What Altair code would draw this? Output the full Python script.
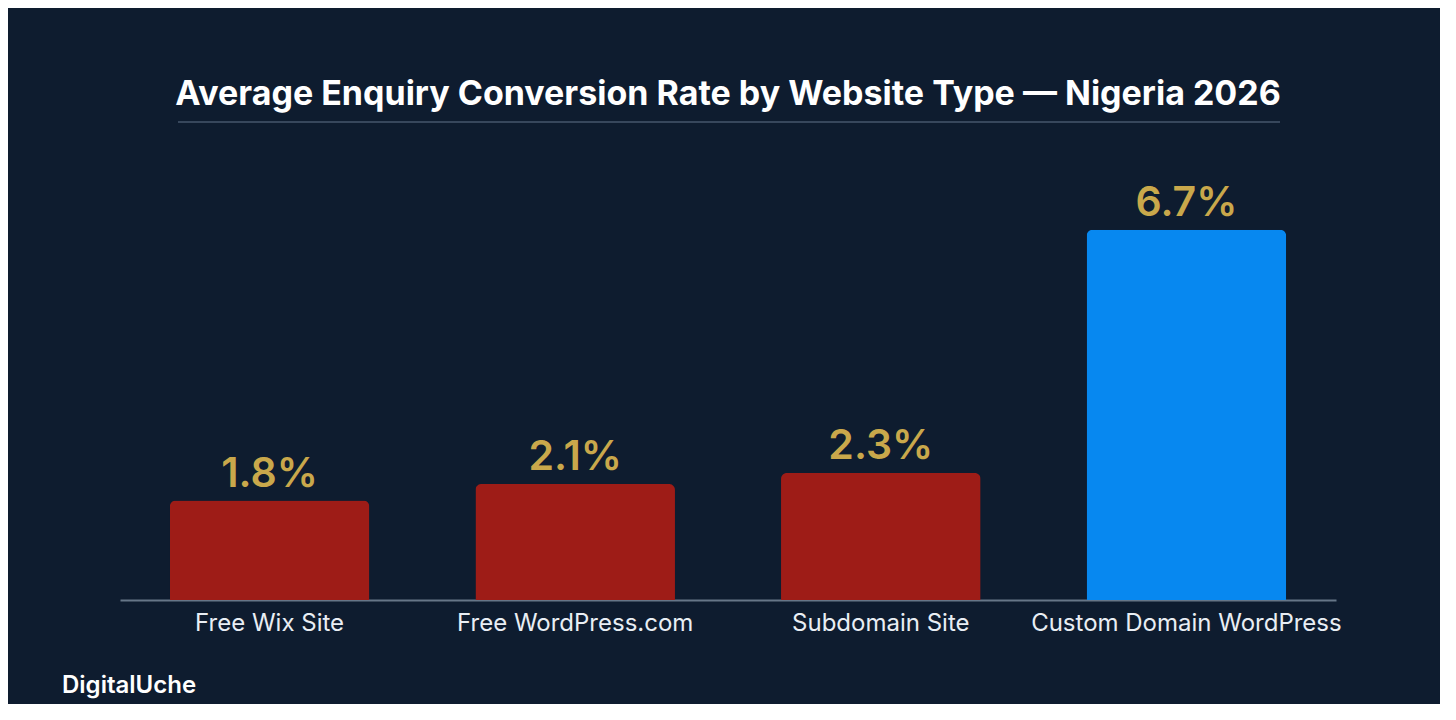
import altair as alt
import pandas as pd

categories = ["Free Wix Site", "Free WordPress.com", "Subdomain Site", "Custom Domain WordPress"]
rates = [1.8, 2.1, 2.3, 6.7]
rate_labels = ["1.8%", "2.1%", "2.3%", "6.7%"]

df = pd.DataFrame({"type": categories, "rate": rates, "label": rate_labels})

BG = "#0e1c2f"
bar_colors = ["#9e1c17", "#9e1c17", "#9e1c17", "#0788f0"]

x_enc = alt.X(
    "type:N",
    sort=categories,
    scale=alt.Scale(paddingInner=0.347, paddingOuter=0.163),
    axis=alt.Axis(
        title=None,
        labelAngle=0,
        labelFontSize=24,
        labelFont="Inter",
        labelColor="#e9eef4",
        labelPadding=11,
        labelLimit=0,
        ticks=False,
        domainColor="#667688",
        domainWidth=2,
        grid=False,
    ),
)
y_enc = alt.Y("rate:Q", scale=alt.Scale(domain=[0, 8]), axis=None)

bars = alt.Chart(df).mark_bar(cornerRadiusTopLeft=6, cornerRadiusTopRight=6).encode(
    x=x_enc,
    y=y_enc,
    color=alt.Color("type:N", scale=alt.Scale(domain=categories, range=bar_colors), legend=None),
)

labels = alt.Chart(df).mark_text(
    font="Inter", fontSize=41, fontWeight=600, color="#c9a84b", baseline="alphabetic", dy=-14
).encode(x=x_enc, y=y_enc, text="label:N")

underline = alt.Chart(df).mark_rule(color="#3b4b60", strokeWidth=1).encode(
    x=alt.value(58), x2=alt.value(1160), y=alt.value(-36)
)

brand = alt.Chart(pd.DataFrame({"t": ["DigitalUche"]})).mark_text(
    font="Inter", fontSize=24, fontWeight=600, color="#ffffff", align="left", baseline="middle"
).encode(x=alt.value(-58), y=alt.value(528), text="t:N")

chart = alt.layer(bars, labels, underline, brand).properties(
    width=1216,
    height=442,
    padding={"left": 112, "top": 150, "right": 104, "bottom": 104},
    autosize=alt.AutoSizeParams(type="none"),
    background=BG,
    title=alt.TitleParams(
        "Average Enquiry Conversion Rate by Website Type — Nigeria 2026",
        font="Inter",
        fontSize=34,
        fontWeight=700,
        color="#ffffff",
        anchor="middle",
        offset=10,
    ),
).configure_view(stroke=None)

chart.save("out.html", embed_options={"renderer": "svg", "actions": False})
